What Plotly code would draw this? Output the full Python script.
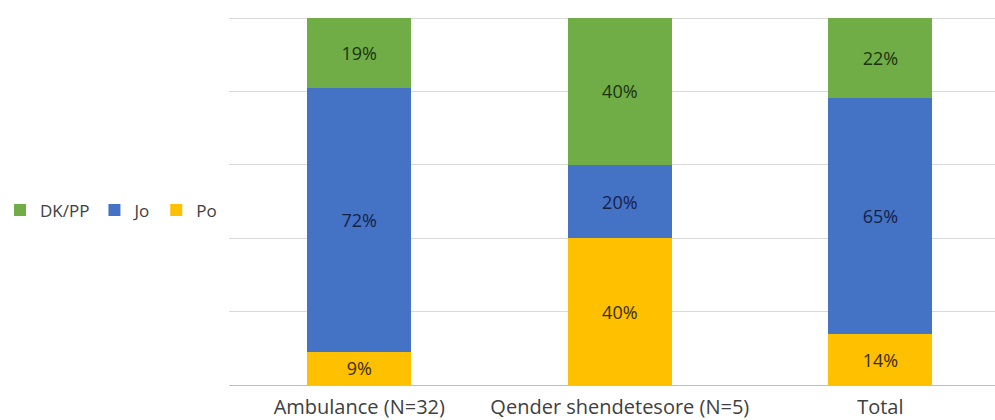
import plotly.graph_objects as go

categories = ["Ambulance (N=32)", "Qender shendetesore (N=5)", "Total"]
po = [9, 40, 14]
jo = [72, 20, 65]
dk = [19, 40, 22]

series = [
    ("Po", po, "#FFC000", "#3a2e00"),
    ("Jo", jo, "#4472C4", "#14224a"),
    ("DK/PP", dk, "#70AD47", "#1c3310"),
]

fig = go.Figure()
for name, vals, color, tcol in series:
    fig.add_trace(go.Bar(
        x=categories, y=vals, name=name,
        marker=dict(color=color, line=dict(width=0)),
        text=[f"{v}%" for v in vals],
        textposition="inside", insidetextanchor="middle",
        textfont=dict(color=tcol, size=18, family="Open Sans"),
        cliponaxis=True,
    ))

L = 228
W = 995
fig.update_layout(
    width=W, height=420,
    barmode="stack", barnorm="percent", bargap=0.6,
    margin=dict(l=L, r=0, t=17, b=35),
    plot_bgcolor="white", paper_bgcolor="white",
    font=dict(family="Open Sans", size=20, color="#404040"),
    showlegend=True,
    legend=dict(orientation="h", traceorder="reversed",
                x=-(L + 1) / (W - L), xanchor="left",
                y=0.474, yanchor="middle",
                font=dict(size=17, color="#404040"),
                itemwidth=30),
    xaxis=dict(range=[-0.5, 2.44], showline=True, linecolor="#bfbfbf",
               ticks="", ticklabelstandoff=4,
               tickfont=dict(size=20, color="#404040")),
    yaxis=dict(range=[0, 100.3], dtick=20, showticklabels=False,
               showgrid=True, gridcolor="#d9d9d9", zeroline=False),
)

fig.write_html("out.html")
